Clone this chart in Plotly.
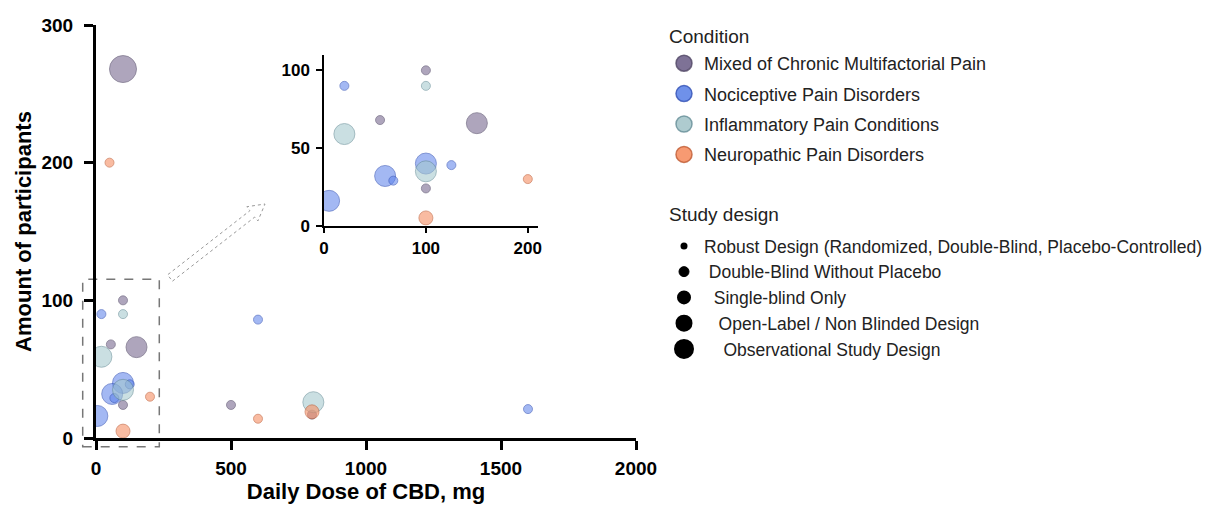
import math
import plotly.graph_objects as go

# ---------------- data ----------------
conditions = ["Mixed of Chronic Multifactorial Pain", "Nociceptive Pain Disorders",
              "Inflammatory Pain Conditions", "Neuropathic Pain Disorders"]
designs = ["Robust Design (Randomized, Double-Blind, Placebo-Controlled)",
           "Double-Blind Without Placebo", "Single-blind Only",
           "Open-Label / Non Blinded Design", "Observational Study Design"]

mixed_dose = [100, 100, 55, 150, 100, 500, 800]
mixed_n = [268, 100, 68, 66, 24, 24, 17]
mixed_design = [4, 0, 0, 3, 0, 0, 0]

noci_dose = [20, 600, 100, 125, 60, 68, 5, 1600]
noci_n = [90, 86, 40, 39, 32, 29, 16, 21]
noci_design = [0, 0, 3, 0, 3, 0, 3, 0]

infl_dose = [100, 20, 100, 805]
infl_n = [90, 59, 35, 26]
infl_design = [0, 3, 3, 3]

neuro_dose = [50, 200, 100, 600, 800]
neuro_n = [200, 30, 5, 14, 19]
neuro_design = [0, 0, 2, 0, 2]

x_ticks_main = [0, 500, 1000, 1500, 2000]
y_ticks_main = [0, 100, 200, 300]
x_ticks_inset = [0, 100, 200]
y_ticks_inset = [0, 50, 100]

# ---------------- style ----------------
fills = ["rgba(124,110,148,0.88)", "rgba(92,130,235,0.80)",
         "rgba(165,200,205,0.82)", "rgba(246,146,104,0.88)"]
edges = ["rgba(80,70,100,0.8)", "rgba(50,80,180,0.8)",
         "rgba(100,140,150,0.8)", "rgba(190,90,50,0.8)"]
legend_fills = ["#7e7296", "#6f91ea", "#aecbcf", "#f79a72"]
design_sizes = [9, 11, 14, 21, 27]
# legend marker: (size, outline width) -> visual diameter ~ size + outline
design_legend_marker = [(7, 0), (10, 1), (12, 2), (14, 3), (16, 4)]
design_legend_indent = [0, 1, 2, 3, 4]

FONT = "Liberation Sans, Arial, Helvetica, sans-serif"

series = [(mixed_dose, mixed_n, mixed_design),
          (noci_dose, noci_n, noci_design),
          (infl_dose, infl_n, infl_design),
          (neuro_dose, neuro_n, neuro_design)]

fig = go.Figure()

for i, (dx, ny, dz) in enumerate(series):
    sizes = [design_sizes[d] for d in dz]
    texts = [designs[d] for d in dz]
    for xa, ya in (("x", "y"), ("x2", "y2")):
        fig.add_trace(go.Scatter(
            x=dx, y=ny, mode="markers", xaxis=xa, yaxis=ya,
            name=conditions[i], legendgroup=conditions[i], showlegend=False,
            text=texts,
            marker=dict(size=sizes, color=fills[i], line=dict(color=edges[i], width=1)),
            hovertemplate="%{x} mg, %{y} participants<br>%{text}<extra>" + conditions[i] + "</extra>",
        ))
    fig.add_trace(go.Scatter(
        x=[None], y=[None], mode="markers", name=conditions[i],
        legendgroup=conditions[i], legend="legend",
        marker=dict(size=16, color=legend_fills[i], line=dict(color=edges[i], width=1.5)),
    ))

for j, d in enumerate(designs):
    ms, lw = design_legend_marker[j]
    fig.add_trace(go.Scatter(
        x=[None], y=[None], mode="markers", name="\u00a0" * design_legend_indent[j] + d,
        legendgroup="design%d" % j, legend="legend2",
        marker=dict(size=ms, color="black", line=dict(color="black", width=lw)),
    ))

W, H = 1213, 510


def px_x(v):
    return v / W


def px_y(v):
    return 1 - v / H


axis_common = dict(showgrid=False, zeroline=False, showline=True, linecolor="black",
                   ticks="outside", tickcolor="black", mirror=False, automargin=False)

fig.update_layout(
    template="none",
    width=W, height=H,
    margin=dict(l=0, r=0, t=0, b=0, autoexpand=False),
    paper_bgcolor="white", plot_bgcolor="rgba(0,0,0,0)",
    font=dict(family=FONT, color="black"),
    xaxis=dict(domain=[px_x(96), px_x(636)], range=[0, 2000], tickvals=x_ticks_main,
               linewidth=3, tickwidth=3, ticklen=9, ticklabelstandoff=2,
               tickfont=dict(size=19, weight="bold", family=FONT),
               title=dict(text="Daily Dose of CBD, mg", standoff=0,
                          font=dict(size=22, weight="bold", family=FONT)),
               anchor="y", **axis_common),
    yaxis=dict(domain=[px_y(438), px_y(25)], range=[0, 300], tickvals=y_ticks_main,
               linewidth=3, tickwidth=3, ticklen=9, ticklabelstandoff=7,
               tickfont=dict(size=19, weight="bold", family=FONT),
               title=dict(text="Amount of participants", standoff=4,
                          font=dict(size=22, weight="bold", family=FONT)),
               anchor="x", **axis_common),
    xaxis2=dict(domain=[px_x(324), px_x(538)], range=[0, 210], tickvals=x_ticks_inset,
                linewidth=1.5, tickwidth=1.5, ticklen=6,
                tickfont=dict(size=17, weight="bold", family=FONT),
                anchor="y2", **axis_common),
    yaxis2=dict(domain=[px_y(225.7), px_y(54.8)], range=[0, 110], tickvals=y_ticks_inset,
                linewidth=1.5, tickwidth=1.5, ticklen=6, ticklabelstandoff=3,
                tickfont=dict(size=17, weight="bold", family=FONT),
                anchor="x2", **axis_common),
    legend=dict(x=px_x(664), y=px_y(45), xanchor="left", yanchor="top",
                font=dict(size=18, color="#222", family=FONT),
                tracegroupgap=4, bgcolor="rgba(0,0,0,0)"),
    legend2=dict(x=px_x(664), y=px_y(228), xanchor="left", yanchor="top",
                 font=dict(size=17.5, color="#222", family=FONT),
                 tracegroupgap=0, bgcolor="rgba(0,0,0,0)"),
    showlegend=True,
    annotations=[
        dict(text="Condition", xref="paper", yref="paper", x=px_x(667), y=px_y(37),
             xanchor="left", yanchor="middle", showarrow=False,
             font=dict(size=19, color="#222", family=FONT)),
        dict(text="Study design", xref="paper", yref="paper", x=px_x(667), y=px_y(214),
             xanchor="left", yanchor="middle", showarrow=False,
             font=dict(size=19, color="#222", family=FONT)),
    ],
)

# dashed zoom box
fig.add_shape(type="rect", xref="paper", yref="paper",
              x0=px_x(82.7), x1=px_x(159.3), y0=px_y(446.7), y1=px_y(279.3),
              line=dict(color="#777", width=1.5, dash="dash"), fillcolor="rgba(0,0,0,0)", layer="below")

# hollow arrow from box to inset
tx, ty = 170.0, 278.0
hx, hy = 265.0, 204.0
L = math.hypot(hx - tx, hy - ty)
ux, uy = (hx - tx) / L, (hy - ty) / L
nx, ny_ = -uy, ux
sw, hw, hl = 4.0, 9.0, 16.0
nkx, nky = hx - ux * hl, hy - uy * hl
pts = [
    (tx + nx * sw, ty + ny_ * sw),
    (nkx + nx * sw, nky + ny_ * sw),
    (nkx + nx * hw, nky + ny_ * hw),
    (hx, hy),
    (nkx - nx * hw, nky - ny_ * hw),
    (nkx - nx * sw, nky - ny_ * sw),
    (tx - nx * sw, ty - ny_ * sw),
]
path = "M " + " L ".join("%.5f,%.5f" % (px_x(a), px_y(b)) for a, b in pts) + " Z"
fig.add_shape(type="path", xref="paper", yref="paper", path=path,
              line=dict(color="#999", width=1, dash="dot"), fillcolor="white")

fig.write_html("out.html", config={"displayModeBar": False},
               post_script="document.body.style.margin='0';document.body.style.padding='0';")
